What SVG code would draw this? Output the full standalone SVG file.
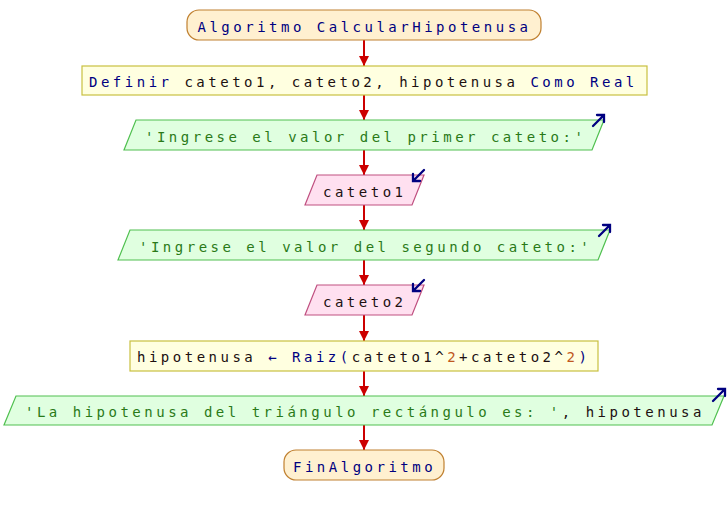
<svg xmlns="http://www.w3.org/2000/svg" width="728" height="515" viewBox="0 0 728 515">
<style>
.t{font-family:"DejaVu Sans Mono","Liberation Mono",monospace;font-size:14px;letter-spacing:3.5px;fill:#201010}
.kw{fill:#000080}
.st{fill:#2a7a18}
.nu{fill:#c05820}
.term{fill:#fff0d0;stroke:#c08030;stroke-width:1.2}
.proc{fill:#ffffe0;stroke:#c8c040;stroke-width:1.2}
.out{fill:#e0ffe0;stroke:#50c050;stroke-width:1.2}
.in{fill:#ffe0f0;stroke:#c05080;stroke-width:1.2}
.icon{fill:none;stroke:#000080;stroke-width:2.3;stroke-linecap:round}
.conn{stroke:#cc0000;stroke-width:2;fill:none}
</style>
<defs>
<marker id="ah" markerWidth="10" markerHeight="10" refX="10" refY="5" orient="auto" markerUnits="userSpaceOnUse">
<path d="M0,0 L10,5 L0,10 Z" fill="#cc0000"/>
</marker>
</defs>
<rect width="728" height="515" fill="#ffffff"/>
<g id="connectors">
<line class="conn" x1="364" y1="40" x2="364" y2="66" marker-end="url(#ah)"/>
<line class="conn" x1="364" y1="95" x2="364" y2="120" marker-end="url(#ah)"/>
<line class="conn" x1="364" y1="150" x2="364" y2="175" marker-end="url(#ah)"/>
<line class="conn" x1="364" y1="205" x2="364" y2="230" marker-end="url(#ah)"/>
<line class="conn" x1="364" y1="260" x2="364" y2="285" marker-end="url(#ah)"/>
<line class="conn" x1="364" y1="315" x2="364" y2="341" marker-end="url(#ah)"/>
<line class="conn" x1="364" y1="371" x2="364" y2="396" marker-end="url(#ah)"/>
<line class="conn" x1="364" y1="425" x2="364" y2="450" marker-end="url(#ah)"/>
</g>
<g id="start">
<rect class="term" x="187" y="10" width="354" height="30" rx="12"/>
<text class="t kw" x="197.5" y="31.5">Algoritmo CalcularHipotenusa</text>
</g>
<g id="definir">
<rect class="proc" x="82" y="66" width="565" height="29"/>
<text class="t" x="89" y="86.5"><tspan class="kw">Definir </tspan>cateto1, cateto2, hipotenusa <tspan class="kw">Como Real</tspan></text>
</g>
<g id="escribir1">
<polygon class="out" points="136,120 604,120 592,150 124,150"/>
<text class="t st" x="145" y="141.5">'Ingrese el valor del primer cateto:'</text>
<path class="icon" d="M593,126 L604,115 M597,115 L604,115 L604,122"/>
</g>
<g id="leer1">
<polygon class="in" points="317,175 424,175 412,205 305,205"/>
<text class="t" x="323" y="196.5">cateto1</text>
<path class="icon" d="M424,170 L413,181 M413,174 L413,181 L420,181"/>
</g>
<g id="escribir2">
<polygon class="out" points="130,230 610,230 598,260 118,260"/>
<text class="t st" x="139" y="251.5">'Ingrese el valor del segundo cateto:'</text>
<path class="icon" d="M599,236 L610,225 M603,225 L610,225 L610,232"/>
</g>
<g id="leer2">
<polygon class="in" points="317,285 424,285 412,315 305,315"/>
<text class="t" x="323" y="306.5">cateto2</text>
<path class="icon" d="M424,280 L413,291 M413,284 L413,291 L420,291"/>
</g>
<g id="asignar">
<rect class="proc" x="130" y="341" width="468" height="30"/>
<text class="t" x="137" y="362">hipotenusa <tspan class="kw">← Raiz(</tspan>cateto1^<tspan class="nu">2</tspan>+cateto2^<tspan class="nu">2</tspan><tspan class="kw">)</tspan></text>
</g>
<g id="escribir3">
<polygon class="out" points="16,396 724,396 712,425 4,425"/>
<text class="t" x="25" y="416.5"><tspan class="st">'La hipotenusa del triángulo rectángulo es: '</tspan>, hipotenusa</text>
<path class="icon" d="M713,401 L725,389 M718,389 L725,389 L725,396"/>
</g>
<g id="fin">
<rect class="term" x="284" y="450" width="160" height="30" rx="12"/>
<text class="t kw" x="293" y="471.5">FinAlgoritmo</text>
</g>
</svg>
